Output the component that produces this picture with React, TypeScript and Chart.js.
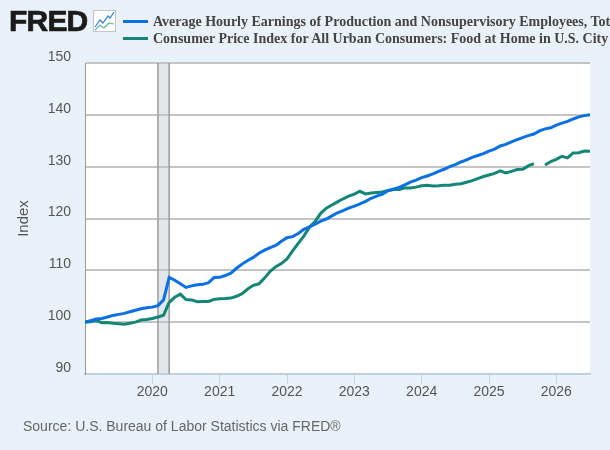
import { useEffect, useRef } from "react"
import { Chart, registerables } from "chart.js"

Chart.register(...registerables)

const firstYear = 2019
const yearTicks = [2020, 2021, 2022, 2023, 2024, 2025, 2026]
const recessionStart = [2020 + 1 / 12]
const recessionEnd = [2020 + 3 / 12]

// monthly, Jan 2019 to Jul 2026
const earnings = [
  100, 100.3, 100.6, 100.7, 101.0, 101.3, 101.5, 101.7, 102.0, 102.3, 102.6, 102.8,
  102.9, 103.2, 104.3, 108.65, 108.1, 107.4, 106.7, 107.0, 107.2, 107.3, 107.6, 108.6,
  108.65, 109.0, 109.45, 110.4, 111.2, 111.9, 112.5, 113.3, 113.9, 114.4, 114.8, 115.6,
  116.3, 116.5, 117.1, 117.9, 118.4, 118.9, 119.5, 119.9, 120.5, 121.1, 121.5, 122.0,
  122.4, 122.8, 123.3, 123.9, 124.3, 124.7, 125.35, 125.7, 126.0, 126.5, 127.0, 127.4,
  127.9, 128.2, 128.6, 129.1, 129.5, 130.0, 130.4, 130.9, 131.3, 131.8, 132.15, 132.5,
  133.0, 133.4, 134.0, 134.3, 134.8, 135.2, 135.6, 136.0, 136.3, 136.9, 137.3, 137.5,
  138.0, 138.4, 138.75, 139.2, 139.6, 139.85, 140.0,
]

const foodAtHome = [
  100, 100.1, 100.3, 99.9, 99.95, 99.8, 99.7, 99.6, 99.8, 100.0, 100.4, 100.5,
  100.7, 101.0, 101.35, 103.8, 104.8, 105.4, 104.35, 104.3, 103.95, 104.0, 104.0, 104.4,
  104.5, 104.55, 104.65, 105.0, 105.5, 106.4, 107.1, 107.4, 108.5, 109.8, 110.7, 111.3,
  112.2, 113.75, 115.2, 116.6, 118.3, 119.4, 121.0, 122.0, 122.6, 123.2, 123.8, 124.3,
  124.7, 125.25, 124.75, 124.9, 125.0, 125.1, 125.4, 125.6, 125.6, 125.9, 125.9, 126.05,
  126.3, 126.4, 126.25, 126.3, 126.4, 126.4, 126.6, 126.7, 127.0, 127.3, 127.7, 128.1,
  128.4, 128.7, 129.2, 128.8, 129.1, 129.45, 129.5, 130.15, 130.6, null, 130.3, 131.0,
  131.4, 132.0, 131.7, 132.65, 132.7, 133.0, 132.95,
]

const earningsLabel = "Average Hourly Earnings of Production and Nonsupervisory Employees, Tot"
const foodLabel = "Consumer Price Index for All Urban Consumers: Food at Home in U.S. City"

const BLUE = "#0a70e6"
const GREEN = "#138677"
const PAGE = "#e9f2fa"
const sansFont = "'Liberation Sans', Arial, sans-serif"

const toPoints = (values: (number | null)[]) =>
  values.map((v, i) => ({ x: firstYear + i / 12, y: v }))

// white plot background and recession band, the band goes under the grid lines
const plotBackground = {
  id: "plotBackground",
  beforeDraw(chart: any) {
    const { ctx, chartArea, scales } = chart
    ctx.save()
    ctx.fillStyle = "#ffffff"
    ctx.fillRect(chartArea.left, chartArea.top, chartArea.width, chartArea.height)
    recessionStart.forEach((start, i) => {
      const x0 = scales.x.getPixelForValue(start)
      const x1 = scales.x.getPixelForValue(recessionEnd[i])
      ctx.fillStyle = "#e1e7ec"
      ctx.fillRect(x0, chartArea.top, x1 - x0, chartArea.height)
    })
    ctx.restore()
  },
  beforeDatasetsDraw(chart: any) {
    const { ctx, chartArea, scales } = chart
    ctx.save()
    recessionStart.forEach((start, i) => {
      const x0 = scales.x.getPixelForValue(start)
      const x1 = scales.x.getPixelForValue(recessionEnd[i])
      ctx.strokeStyle = "#9a9a9a"
      ctx.lineWidth = 1.5
      ctx.beginPath()
      ctx.moveTo(x0, chartArea.top)
      ctx.lineTo(x0, chartArea.bottom)
      ctx.moveTo(x1, chartArea.top)
      ctx.lineTo(x1, chartArea.bottom)
      ctx.stroke()
    })
    ctx.restore()
  },
}

function FredLogo() {
  return (
    <>
      <div
        style={{
          position: "absolute",
          left: 9,
          top: 3,
          font: `bold 30px ${sansFont}`,
          letterSpacing: -0.8,
          color: "#1c1a1a",
          WebkitTextStroke: "0.7px #1c1a1a",
          lineHeight: "36px",
        }}
      >
        FRED
      </div>
      <svg style={{ position: "absolute", left: 93, top: 10 }} width={23} height={23}>
        <rect x={0.5} y={0.5} width={22} height={21} fill="#fff" stroke="#c4c4c4" />
        <polyline points="2,17 7,10 10,13 15,6 17,8 21,2" fill="none" stroke="#2f80d8" strokeWidth={1.2} />
        <polyline points="2,20 7,15 11,18 16,13 21,14" fill="none" stroke="#5fb8a0" strokeWidth={1.2} />
      </svg>
    </>
  )
}

function LegendRow({ top, color, text }: { top: number; color: string; text: string }) {
  return (
    <>
      <div style={{ position: "absolute", left: 123, top: top + 6, width: 25, height: 3, background: color }} />
      <div
        style={{
          position: "absolute",
          left: 153,
          top,
          font: "bold 14px 'Liberation Serif', serif",
          lineHeight: "15px",
          color: "#444444",
          whiteSpace: "nowrap",
        }}
      >
        {text}
      </div>
    </>
  )
}

export default function App() {
  const chartRef = useRef<HTMLCanvasElement>(null)

  useEffect(() => {
    if (!chartRef.current) return
    const chart = new Chart(chartRef.current, {
      type: "line",
      data: {
        datasets: [
          {
            label: earningsLabel,
            data: toPoints(earnings),
            borderColor: BLUE,
            borderWidth: 3,
            pointRadius: 0,
            tension: 0,
          },
          {
            label: foodLabel,
            data: toPoints(foodAtHome),
            borderColor: GREEN,
            borderWidth: 3,
            pointRadius: 0,
            tension: 0,
            spanGaps: false,
          },
        ],
      } as any,
      options: {
        responsive: false,
        animation: false,
        layout: { padding: { top: 63, right: 20, left: 0, bottom: 0 } },
        plugins: { legend: { display: false }, tooltip: { enabled: false } },
        scales: {
          x: {
            type: "linear",
            min: 2019,
            max: 2026.5,
            afterBuildTicks: (axis: any) => {
              axis.ticks = yearTicks.map((value) => ({ value }))
            },
            afterFit: (axis: any) => {
              axis.height = 76
            },
            border: { color: "#c3cfdd", width: 2 },
            grid: { drawOnChartArea: false, tickLength: 10, tickColor: "#c5d3e8" },
            ticks: {
              autoSkip: false,
              maxRotation: 0,
              padding: 0,
              color: "#555555",
              font: { family: sansFont, size: 14 },
              callback: (v: any) => String(v),
            },
          },
          y: {
            min: 90,
            max: 150,
            afterFit: (axis: any) => {
              axis.width = 85
            },
            border: { color: "#9a9a9a", width: 1 },
            grid: { color: "#c4c4c4", lineWidth: 2, tickLength: 0 },
            title: {
              display: true,
              text: "Index",
              color: "#555555",
              font: { family: sansFont, size: 15 },
              padding: { top: 15, bottom: 0 },
            },
            ticks: {
              stepSize: 10,
              padding: 14,
              labelOffset: -6,
              color: "#555555",
              font: { family: sansFont, size: 14 },
            },
          },
        },
      } as any,
      plugins: [plotBackground],
    })
    return () => chart.destroy()
  }, [])

  return (
    <div style={{ position: "fixed", left: 0, top: 0, width: 610, height: 450, background: PAGE, overflow: "hidden" }}>
      <canvas ref={chartRef} width={610} height={450} style={{ position: "absolute", left: 0, top: 0 }} />
      <FredLogo />
      <LegendRow top={14} color={BLUE} text={earningsLabel} />
      <LegendRow top={31} color={GREEN} text={foodLabel} />
      <div style={{ position: "absolute", left: 23, top: 418, font: `14px ${sansFont}`, lineHeight: "16px", color: "#666666" }}>
        Source: U.S. Bureau of Labor Statistics via FRED®
      </div>
    </div>
  )
}
